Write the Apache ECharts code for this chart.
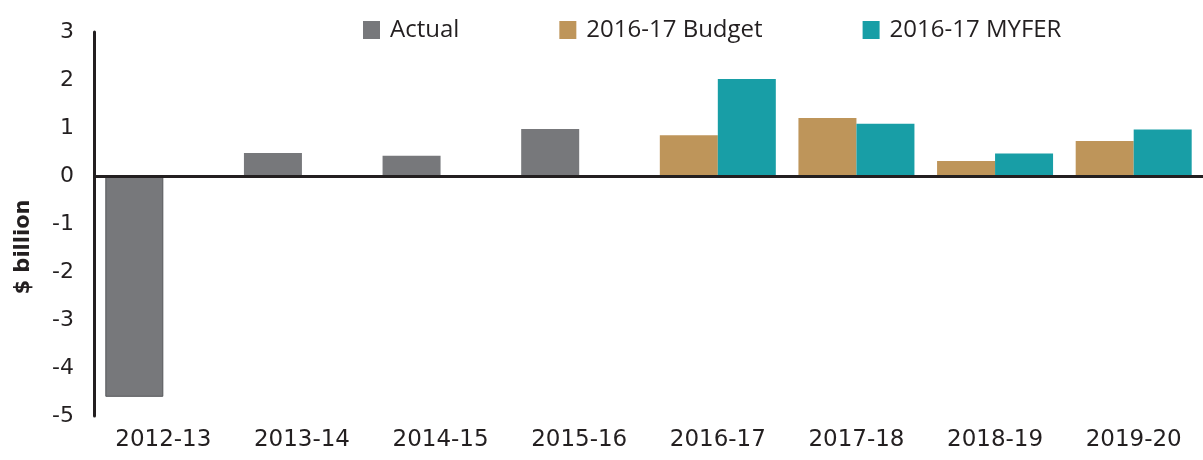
<!DOCTYPE html>
<html>
<head>
<meta charset="utf-8">
<script src="https://cdn.jsdelivr.net/npm/echarts@6/dist/echarts.min.js"></script>
<style>
  html, body { margin: 0; padding: 0; background: #fff; }
  #chart { width: 1203px; height: 460px; }
</style>
</head>
<body>
<div id="chart"></div>
<script>
const years = ['2012-13', '2013-14', '2014-15', '2015-16', '2016-17', '2017-18', '2018-19', '2019-20']
const actual = [-4.6, 0.48, 0.42, 0.98, null, null, null, null]
const budget = [null, null, null, null, 0.85, 1.21, 0.31, 0.73]
const myfer = [null, null, null, null, 2.02, 1.09, 0.47, 0.97]
const yTicks = { min: -5, max: 3, step: 1 }

;(function () {
  budgetChart()
})()

// underlying cash balance chart
function budgetChart() {
  let chart = echarts.init(document.getElementById('chart'))
  let axisColor = '#231f20'
  let option = {
    animation: false,
    legend: {
      left: 358,
      top: 13,
      itemWidth: 17,
      itemHeight: 18,
      itemGap: 100,
      icon: 'rect',
      textStyle: {
        fontFamily: 'Open Sans',
        fontSize: 24,
        color: axisColor,
        padding: [0, 0, 0, 5],
      },
      data: ['Actual', '2016-17 Budget', '2016-17 MYFER'],
    },
    grid: {
      left: 94,
      width: 1112,
      top: 32,
      bottom: 44,
    },
    xAxis: {
      type: 'category',
      data: years,
      axisLine: { show: false },
      axisTick: { show: false },
      axisLabel: {
        margin: 13,
        fontFamily: 'DejaVu Sans',
        fontSize: 23,
        color: axisColor,
      },
    },
    yAxis: {
      type: 'value',
      min: yTicks.min,
      max: yTicks.max,
      interval: yTicks.step,
      name: '$ billion',
      nameLocation: 'middle',
      nameGap: 60,
      nameTextStyle: {
        fontFamily: 'DejaVu Sans',
        fontWeight: 'bold',
        fontSize: 21,
        color: axisColor,
        padding: [0, 46, 0, 0],
      },
      axisLine: {
        show: true,
        lineStyle: { color: axisColor, width: 3 },
      },
      axisTick: { show: false },
      splitLine: { show: false },
      axisLabel: {
        margin: 20,
        padding: [5, 0, 0, 0],
        fontFamily: 'DejaVu Sans',
        fontSize: 22,
        color: axisColor,
      },
    },
    series: [
      {
        name: 'Actual',
        type: 'bar',
        stack: 'a',
        barWidth: 58,
        barGap: '0%',
        itemStyle: { color: '#77787b' },
        data: actual.map(function (v, i) {
          // first bar has a darker outline
          return i === 0 ? { value: v, itemStyle: { borderColor: '#55575a', borderWidth: 1 } } : v
        }),
        markLine: {
          silent: true,
          symbol: 'none',
          label: { show: false },
          lineStyle: { color: axisColor, width: 3, type: 'solid' },
          data: [{ yAxis: 0 }],
        },
        z: 2,
      },
      {
        name: '2016-17 Budget',
        type: 'bar',
        stack: 'a',
        barWidth: 58,
        barGap: '0%',
        itemStyle: { color: '#be955a' },
        data: budget,
      },
      {
        name: '2016-17 MYFER',
        type: 'bar',
        barWidth: 58,
        barGap: '0%',
        itemStyle: { color: '#189ea6' },
        data: myfer,
      },
    ],
  }
  chart.setOption(option)
}
</script>
</body>
</html>
